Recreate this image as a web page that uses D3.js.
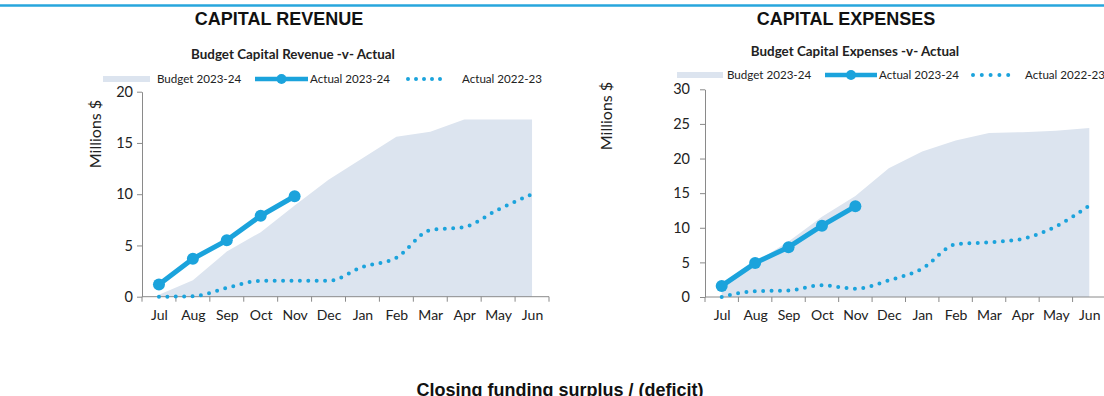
<!DOCTYPE html>
<html>
<head>
<meta charset="utf-8">
<script src="https://cdn.jsdelivr.net/npm/d3@7"></script>
<style>
  html, body { margin: 0; padding: 0; background: #ffffff; }
  svg { display: block; }
</style>
</head>
<body>
<svg id="chart" width="1104" height="396"></svg>
<script>
// Months of the financial year (category axis)
const months = ["Jul", "Aug", "Sep", "Oct", "Nov", "Dec", "Jan", "Feb", "Mar", "Apr", "May", "Jun"];

// Capital revenue, $ millions (cumulative)
const revenueBudget = [0.2, 1.6, 4.4, 6.3, 8.9, 11.4, 13.5, 15.6, 16.1, 17.3, 17.3, 17.3];
const revenueActual = [1.2, 3.7, 5.5, 7.9, 9.8];
const revenuePrior  = [0.0, 0.05, 0.85, 1.55, 1.55, 1.55, 2.9, 3.8, 6.5, 6.8, 8.5, 10.0];
const revenueTicks  = [0, 5, 10, 15, 20];

// Capital expenses, $ millions (cumulative)
const expensesBudget = [1.5, 5.0, 8.0, 11.6, 14.6, 18.6, 21.0, 22.6, 23.7, 23.8, 24.0, 24.4];
const expensesActual = [1.6, 4.9, 7.2, 10.3, 13.1];
const expensesPrior  = [0.0, 0.85, 0.95, 1.7, 1.2, 2.4, 4.1, 7.6, 7.9, 8.4, 10.2, 13.2];
const expensesTicks  = [0, 5, 10, 15, 20, 25, 30];

const legendLabels = ["Budget 2023-24", "Actual 2023-24", "Actual 2022-23"];

const BLUE = "#1ba3dc";
const AREA = "#dce4ef";
const AXIS = "#8a8a8a";
const TEXT = "#222222";
const FONT = "Lato, 'Open Sans', sans-serif";

const svg = d3.select("#chart");

// Header rule
svg.append("line")
  .attr("x1", 0).attr("x2", 1104)
  .attr("y1", 5.5).attr("y2", 5.5)
  .attr("stroke", "#27a6dd").attr("stroke-width", 2.5);

const panels = [
  {
    title: "CAPITAL REVENUE", titleX: 279,
    subtitle: "Budget Capital Revenue -v- Actual", subtitleX: 293, subtitleY: 59,
    budget: revenueBudget, actual: revenueActual, prior: revenuePrior,
    ticks: revenueTicks,
    x0: 142, x1: 549, yTop: 91.7, yBottom: 296.7, tickGap: 9,
    yLabelX: 101, yLabelY: 134,
    legendY: 79, legend: { swatch: 103, swatchW: 47, line: 255, lineW: 53, dots: 408, dotsW: 40, t1: 157, t2: 310, t3: 462 }
  },
  {
    title: "CAPITAL EXPENSES", titleX: 846,
    subtitle: "Budget Capital Expenses -v- Actual", subtitleX: 855, subtitleY: 56,
    budget: expensesBudget, actual: expensesActual, prior: expensesPrior,
    ticks: expensesTicks,
    x0: 705, x1: 1106, yTop: 89.3, yBottom: 297, tickGap: 15,
    yLabelX: 612, yLabelY: 116,
    legendY: 75, legend: { swatch: 677, swatchW: 46, line: 825, lineW: 52, dots: 973, dotsW: 44, t1: 727, t2: 879, t3: 1025 }
  }
];

panels.forEach(p => {
  const g = svg.append("g");

  const x = d3.scalePoint().domain(months).range([p.x0, p.x1]).padding(0.5);
  const step = x.step();
  const y = d3.scaleLinear()
    .domain([0, d3.max(p.ticks)])
    .range([p.yBottom, p.yTop]);

  // Section heading
  g.append("text")
    .attr("x", p.titleX).attr("y", 25)
    .attr("text-anchor", "middle")
    .attr("font-family", "'Liberation Sans', Arial, sans-serif")
    .attr("font-weight", "bold").attr("font-size", 18)
    .attr("fill", "#111")
    .text(p.title);

  // Chart subtitle
  g.append("text")
    .attr("x", p.subtitleX).attr("y", p.subtitleY)
    .attr("text-anchor", "middle")
    .attr("font-family", FONT)
    .attr("font-weight", "bold").attr("font-size", 13.4)
    .attr("fill", TEXT)
    .text(p.subtitle);

  // Budget area
  const area = d3.area()
    .x((d, i) => x(months[i]))
    .y0(y(0))
    .y1(d => y(d));
  g.append("path")
    .datum(p.budget)
    .attr("d", area)
    .attr("fill", AREA);

  // Axes
  const yAxis = d3.axisLeft(y)
    .tickValues(p.ticks)
    .tickSize(5)
    .tickSizeOuter(0)
    .tickPadding(p.tickGap - 5);
  const ya = g.append("g")
    .attr("transform", `translate(${p.x0},0)`)
    .call(yAxis);
  ya.select(".domain").attr("stroke", AXIS);
  ya.selectAll(".tick line").attr("stroke", AXIS);
  ya.selectAll(".tick text")
    .attr("font-family", FONT).attr("font-size", 14.5).attr("fill", TEXT);

  const xAxis = d3.axisBottom(x).tickSize(0).tickPadding(13);
  const xa = g.append("g")
    .attr("transform", `translate(0,${p.yBottom})`)
    .call(xAxis);
  xa.select(".domain").remove();
  xa.selectAll(".tick text")
    .attr("font-family", FONT).attr("font-size", 14).attr("fill", TEXT);

  g.append("line")
    .attr("x1", p.x0).attr("x2", p.x1)
    .attr("y1", y(0)).attr("y2", y(0))
    .attr("stroke", AXIS);

  // Category boundary ticks
  const bounds = months.map(m => x(m) - step / 2).concat([x(months[months.length - 1]) + step / 2]);
  g.selectAll(".btick").data(bounds).enter().append("line")
    .attr("x1", d => d).attr("x2", d => d)
    .attr("y1", y(0)).attr("y2", y(0) + 5)
    .attr("stroke", AXIS);

  // Y axis title
  g.append("text")
    .attr("transform", `translate(${p.yLabelX},${p.yLabelY}) rotate(-90)`)
    .attr("text-anchor", "middle")
    .attr("font-family", FONT).attr("font-size", 16)
    .attr("fill", TEXT)
    .text("Millions $");

  // Prior-year actual (dotted)
  const priorLine = d3.line()
    .x((d, i) => x(months[i]))
    .y(d => y(d))
    .curve(d3.curveMonotoneX);
  g.append("path")
    .datum(p.prior)
    .attr("d", priorLine)
    .attr("fill", "none")
    .attr("stroke", BLUE)
    .attr("stroke-width", 4)
    .attr("stroke-linecap", "round")
    .attr("stroke-dasharray", "0 8.4");

  // Current-year actual with markers
  const actualLine = d3.line()
    .x((d, i) => x(months[i]))
    .y(d => y(d));
  g.append("path")
    .datum(p.actual)
    .attr("d", actualLine)
    .attr("fill", "none")
    .attr("stroke", BLUE)
    .attr("stroke-width", 5)
    .attr("stroke-linejoin", "round");
  g.selectAll(".pt").data(p.actual).enter().append("circle")
    .attr("cx", (d, i) => x(months[i]))
    .attr("cy", d => y(d))
    .attr("r", 6)
    .attr("fill", BLUE);

  // Legend
  const L = p.legend, ly = p.legendY;
  g.append("rect")
    .attr("x", L.swatch).attr("y", ly - 3)
    .attr("width", L.swatchW).attr("height", 6)
    .attr("fill", AREA);
  g.append("line")
    .attr("x1", L.line).attr("x2", L.line + L.lineW)
    .attr("y1", ly).attr("y2", ly)
    .attr("stroke", BLUE).attr("stroke-width", 4.5);
  g.append("circle")
    .attr("cx", L.line + L.lineW / 2).attr("cy", ly)
    .attr("r", 5).attr("fill", BLUE);
  g.append("line")
    .attr("x1", L.dots).attr("x2", L.dots + L.dotsW)
    .attr("y1", ly).attr("y2", ly)
    .attr("stroke", BLUE).attr("stroke-width", 4)
    .attr("stroke-linecap", "round")
    .attr("stroke-dasharray", `0 ${L.dotsW / 5}`);
  [L.t1, L.t2, L.t3].forEach((tx, i) => {
    g.append("text")
      .attr("x", tx).attr("y", ly + 4)
      .attr("font-family", FONT).attr("font-size", 11.6)
      .attr("fill", TEXT)
      .text(legendLabels[i]);
  });
});

// Next section heading (continues below)
svg.append("text")
  .attr("x", 560).attr("y", 396)
  .attr("text-anchor", "middle")
  .attr("font-family", "'Liberation Sans', Arial, sans-serif")
  .attr("font-weight", "bold").attr("font-size", 18)
  .attr("fill", "#111")
  .text("Closing funding surplus / (deficit)");
</script>
</body>
</html>
